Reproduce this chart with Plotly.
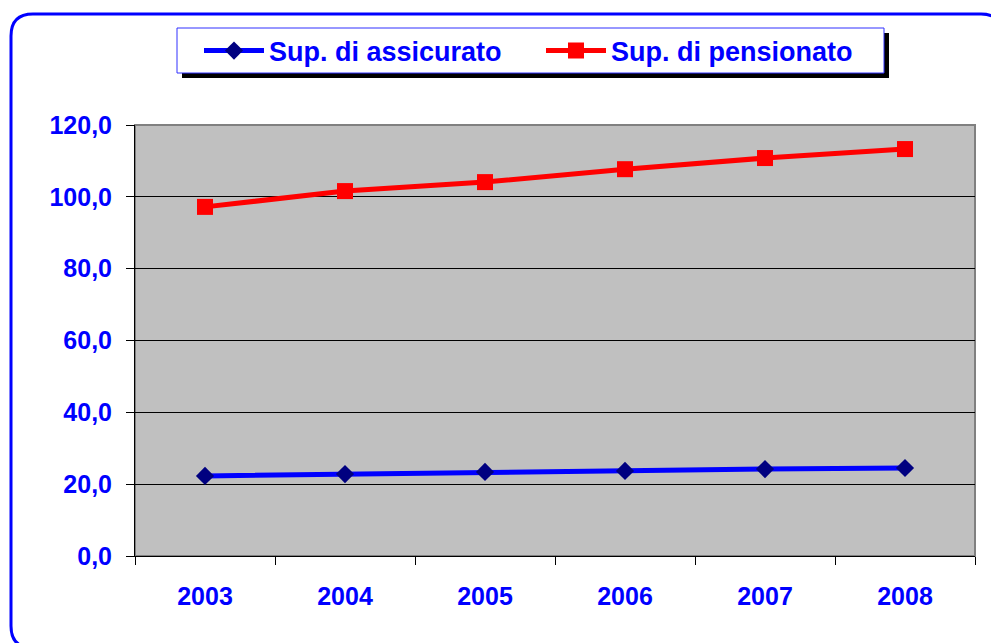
import plotly.graph_objects as go

years = ["2003", "2004", "2005", "2006", "2007", "2008"]
assicurato = [22.3, 22.8, 23.4, 23.7, 24.2, 24.5]
pensionato = [97.2, 101.6, 104.1, 107.7, 110.8, 113.3]
y_ticks = [0, 20, 40, 60, 80, 100, 120]

BLUE = "#0000FF"
NAVY = "#000080"
RED = "#FF0000"
PLOT_BG = "#C0C0C0"
FONT = "Arial, Liberation Sans, sans-serif"

# page body adds an 8px margin, so everything is laid out 8px up/left
OFF = 8
W, H = 999 - OFF, 643 - OFF
L, T = 135 - OFF, 125 - OFF
R, B = W - (975 - OFF), H - (556 - OFF)


def px(x):
    return (x - OFF - L) / (W - L - R)


def py(y):
    return (H - B - (y - OFF)) / (H - T - B)


fig = go.Figure()

fig.add_trace(go.Scatter(
    x=years, y=assicurato,
    name="Sup. di assicurato",
    mode="lines+markers",
    line=dict(color=BLUE, width=5),
    marker=dict(symbol="diamond", size=14, color=NAVY, line=dict(width=0)),
))
fig.add_trace(go.Scatter(
    x=years, y=pensionato,
    name="Sup. di pensionato",
    mode="lines+markers",
    line=dict(color=RED, width=5),
    marker=dict(symbol="square", size=16, color=RED, line=dict(width=0)),
))

# rounded outer frame (right and bottom run off the page)
x0, y0, x1, y1, r = 11, 14, 1003, 648, 22
frame = (
    f"M {px(x0)},{py(y0 + r)} "
    f"Q {px(x0)},{py(y0)} {px(x0 + r)},{py(y0)} "
    f"L {px(x1 - r)},{py(y0)} "
    f"Q {px(x1)},{py(y0)} {px(x1)},{py(y0 + r)} "
    f"L {px(x1)},{py(y1 - r)} "
    f"Q {px(x1)},{py(y1)} {px(x1 - r)},{py(y1)} "
    f"L {px(x0 + r)},{py(y1)} "
    f"Q {px(x0)},{py(y1)} {px(x0)},{py(y1 - r)} Z"
)

shapes = [
    dict(type="path", path=frame, xref="paper", yref="paper",
         line=dict(color=BLUE, width=3), layer="below"),
    # legend shadow + box
    dict(type="rect", xref="paper", yref="paper",
         x0=px(182), x1=px(889), y0=py(33), y1=py(78),
         fillcolor="black", line=dict(width=0), layer="above"),
    dict(type="rect", xref="paper", yref="paper",
         x0=px(177), x1=px(884), y0=py(28), y1=py(73),
         fillcolor="white", line=dict(color="#3030FF", width=1), layer="above"),
    # plot area border
    dict(type="rect", xref="paper", yref="paper", x0=0, x1=1, y0=0, y1=1,
         line=dict(color="#808080", width=2), layer="below"),
]

fig.update_layout(
    width=W, height=H,
    margin=dict(l=L, r=R, t=T, b=B),
    paper_bgcolor="white",
    plot_bgcolor=PLOT_BG,
    separators=",.",
    font=dict(family=FONT, color=BLUE, size=25),
    showlegend=True,
    legend=dict(
        orientation="h",
        x=px(199), y=py(51), xanchor="left", yanchor="middle",
        bgcolor="rgba(0,0,0,0)", borderwidth=0,
        font=dict(family=FONT, size=27, color=BLUE, weight="bold"),
        itemwidth=60, entrywidth=267, tracegroupgap=0,
    ),
    shapes=shapes,
    xaxis=dict(
        type="category",
        tickson="boundaries",
        ticks="outside", ticklen=8, tickcolor="black",
        showline=True, linecolor="black", linewidth=1,
        showgrid=False,
        tickfont=dict(family=FONT, size=25, color=BLUE, weight="bold"),
        ticklabelstandoff=18,
        range=[-0.5, 5.5],
    ),
    yaxis=dict(
        range=[0, 120],
        tickvals=y_ticks,
        tickformat=".1f",
        ticks="outside", ticklen=8, tickcolor="black",
        showline=True, linecolor="black", linewidth=1,
        gridcolor="black", gridwidth=1,
        zeroline=False,
        tickfont=dict(family=FONT, size=25, color=BLUE, weight="bold"),
        ticklabelstandoff=9,
    ),
)

fig.write_html("out.html")
